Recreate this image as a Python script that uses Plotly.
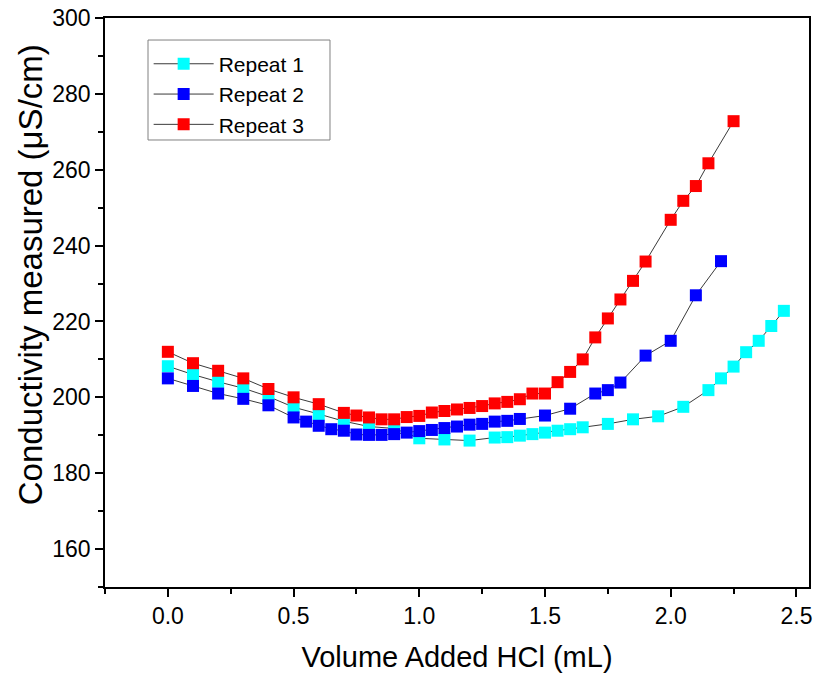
import plotly.graph_objects as go

# Repeat 1 (cyan)
x1 = [0, 0.1, 0.2, 0.3, 0.4, 0.5, 0.6, 0.7, 0.8, 0.9, 1.0, 1.1, 1.2, 1.3, 1.35, 1.4, 1.45, 1.5,
      1.55, 1.6, 1.65, 1.75, 1.85, 1.95, 2.05, 2.15, 2.2, 2.25, 2.3, 2.35, 2.4, 2.45]
y1 = [208.2, 206.0, 204.1, 202.4, 200.2, 197.4, 195.6, 193.7, 192.3, 191.8, 189.2, 188.9, 188.6,
      189.4, 189.5, 189.9, 190.3, 190.7, 191.2, 191.6, 192.1, 193.0, 194.2, 195.0, 197.5, 201.9,
      205.0, 208.1, 211.9, 214.9, 218.8, 222.8]

# Repeat 2 (blue)
x2 = [0, 0.1, 0.2, 0.3, 0.4, 0.5, 0.55, 0.6, 0.65, 0.7, 0.75, 0.8, 0.85, 0.9, 0.95, 1.0, 1.05,
      1.1, 1.15, 1.2, 1.25, 1.3, 1.35, 1.4, 1.5, 1.6, 1.7, 1.75, 1.8, 1.9, 2.0, 2.1, 2.2]
y2 = [205.0, 203.0, 201.0, 199.6, 197.9, 194.7, 193.6, 192.5, 191.6, 191.2, 190.2, 190.1, 190.1,
      190.3, 190.7, 191.1, 191.4, 191.9, 192.3, 192.8, 193.0, 193.6, 193.8, 194.3, 195.2, 197.0,
      201.0, 201.9, 203.9, 211.0, 214.9, 226.9, 235.9]

# Repeat 3 (red)
x3 = [0, 0.1, 0.2, 0.3, 0.4, 0.5, 0.6, 0.7, 0.75, 0.8, 0.85, 0.9, 0.95, 1.0, 1.05, 1.1, 1.15,
      1.2, 1.25, 1.3, 1.35, 1.4, 1.45, 1.5, 1.55, 1.6, 1.65, 1.7, 1.75, 1.8, 1.85, 1.9, 2.0, 2.05,
      2.1, 2.15, 2.25]
y3 = [212.0, 209.0, 207.0, 205.0, 202.2, 200.0, 198.2, 195.9, 195.2, 194.7, 194.2, 194.2, 194.8,
      195.1, 196.0, 196.4, 196.8, 197.2, 197.7, 198.4, 198.8, 199.5, 201.0, 201.0, 204.0, 206.7,
      210.0, 215.8, 220.8, 225.8, 230.7, 235.8, 246.8, 251.8, 255.7, 261.7, 272.8]

names = ["Repeat 1", "Repeat 2", "Repeat 3"]
colors = ["#00FFFF", "#0000FF", "#FF0000"]

x_ticks = [0.0, 0.5, 1.0, 1.5, 2.0, 2.5]
y_ticks = [160, 180, 200, 220, 240, 260, 280, 300]

x_title = "Volume Added HCl (mL)"
y_title = "Conductivity measured (μS/cm)"

FONT = "Liberation Sans, Arial, sans-serif"

fig = go.Figure()
for xs, ys, nm, c in zip([x1, x2, x3], [y1, y2, y3], names, colors):
    fig.add_trace(go.Scatter(
        x=xs, y=ys, name=nm, mode="lines+markers",
        line=dict(color="#3a3a3a", width=1),
        marker=dict(symbol="square", size=12, color=c, line=dict(width=0)),
    ))

axis_common = dict(
    showgrid=False, zeroline=False, showline=True, linecolor="black", linewidth=1.5,
    mirror=True, ticks="outside", ticklen=8, tickwidth=1.5, tickcolor="black",
    tickfont=dict(family=FONT, size=23, color="black"), automargin=False,
    ticklabeloverflow="allow",
)

fig.update_xaxes(
    range=[-0.25, 2.55], tickvals=x_ticks, ticktext=[f"{v:.1f}" for v in x_ticks],
    title=dict(text=x_title, font=dict(family=FONT, size=29, color="black"), standoff=20),
    minor=dict(dtick=0.25, tick0=-0.25, ticks="outside", ticklen=5, tickwidth=1.5, tickcolor="black"),
    **axis_common,
)
fig.update_yaxes(
    range=[150, 300], tickvals=y_ticks, ticktext=[str(v) for v in y_ticks],
    minor=dict(dtick=10, tick0=150, ticks="outside", ticklen=5, tickwidth=1.5, tickcolor="black"),
    **axis_common,
)

# y-axis title placed as rotated text (sits slightly above the axis centre in the reference)
fig.add_annotation(text=y_title, xref="paper", yref="paper", x=-0.1065, y=0.548,
                   xanchor="center", yanchor="middle", textangle=-90, showarrow=False,
                   font=dict(family=FONT, size=33, color="black"))

# legend frame drawn as a shape so its box matches the reference size
fig.add_shape(type="rect", xref="paper", yref="paper",
              x0=0.0611, x1=0.3196, y0=0.7856, y1=0.9613,
              line=dict(color="#808080", width=1), fillcolor="rgba(0,0,0,0)", layer="above")

fig.update_layout(
    width=815, height=673,
    margin=dict(l=105, r=6, t=18, b=86),
    plot_bgcolor="white", paper_bgcolor="white",
    font=dict(family=FONT, color="black"),
    legend=dict(
        x=0.062, y=0.955, xanchor="left", yanchor="top",
        borderwidth=0, bgcolor="rgba(255,255,255,0)",
        font=dict(family=FONT, size=21, color="black"),
        itemwidth=60, tracegroupgap=0,
    ),
    showlegend=True,
)

fig.write_html("out.html", config={"displayModeBar": False},
               post_script="document.body.style.margin='0';")
